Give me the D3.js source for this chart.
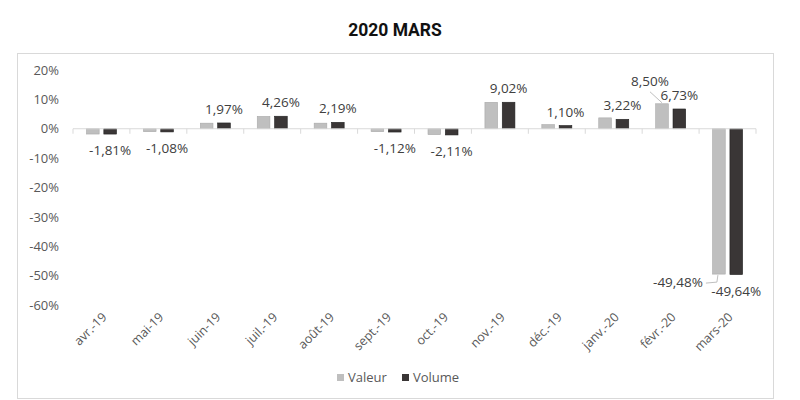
<!DOCTYPE html>
<html>
<head>
<meta charset="utf-8">
<script src="https://cdn.jsdelivr.net/npm/d3@7"></script>
<style>
  body { margin: 0; background: #fff; }
</style>
</head>
<body>
<script>
// chart data
var categories = ["avr.-19", "mai-19", "juin-19", "juil.-19", "août-19", "sept.-19",
                  "oct.-19", "nov.-19", "déc.-19", "janv.-20", "févr.-20", "mars-20"];
var seriesNames = ["Valeur", "Volume"];
var valeur = [-1.8, -1.0, 1.9, 4.2, 1.9, -1.0, -2.0, 9.0, 1.4, 3.7, 8.50, -49.48];
var volume = [-1.81, -1.08, 1.97, 4.26, 2.19, -1.12, -2.11, 9.02, 1.10, 3.22, 6.73, -49.64];
var valeurLabelled = ["févr.-20", "mars-20"];
var yTicks = [-60, -50, -40, -30, -20, -10, 0, 10, 20];

function init(){
    var w = 800, h = 400;
    var colors = {Valeur: "#bfbfbf", Volume: "#3a3636"};
    var strokes = {Valeur: "#a9a9a9", Volume: "#222"};

    var svg = d3.select("body").append("svg")
        .attr("width", w)
        .attr("height", h)
        .style("font-family", "'Open Sans', sans-serif");

    // outer frame
    svg.append("rect")
        .attr("x", 17.5).attr("y", 53.5)
        .attr("width", 756).attr("height", 345)
        .attr("fill", "none")
        .attr("stroke", "#d9d9d9");

    // title
    svg.append("text")
        .attr("x", 395).attr("y", 36)
        .attr("text-anchor", "middle")
        .attr("font-family", "Roboto, sans-serif")
        .attr("font-weight", "bold")
        .attr("font-size", "17.5px")
        .attr("fill", "#111")
        .text("2020 MARS");

    var xScale = d3.scaleBand()
        .domain(categories)
        .range([73, 756]);

    var xSub = d3.scaleBand()
        .domain(seriesNames)
        .range([13.5, 43.5])
        .paddingInner(0.27);

    var yScale = d3.scaleLinear()
        .domain([-60, 20])
        .range([305, 70]);

    var y0 = yScale(0);

    // y axis labels
    var yAxis = d3.axisLeft(yScale)
        .tickValues(yTicks)
        .tickSize(0)
        .tickPadding(3)
        .tickFormat(function(d){ return d + "%"; });
    var gy = svg.append("g")
        .attr("transform", "translate(62,0)")
        .call(yAxis);
    gy.select(".domain").remove();
    gy.selectAll("text")
        .attr("font-family", "'Open Sans', sans-serif")
        .attr("font-size", "13px")
        .attr("fill", "#595959");

    // bars
    var rows = categories.map(function(c, i){
        return {cat: c, Valeur: valeur[i], Volume: volume[i]};
    });

    var groups = svg.selectAll("g.cat")
        .data(rows)
        .enter()
        .append("g")
        .attr("class", "cat")
        .attr("transform", function(d){ return "translate(" + xScale(d.cat) + ",0)"; });

    groups.selectAll("rect")
        .data(function(d){
            return seriesNames.map(function(s){ return {s: s, v: d[s]}; });
        })
        .enter()
        .append("rect")
        .attr("x", function(d){ return xSub(d.s); })
        .attr("width", xSub.bandwidth())
        .attr("y", function(d){ return Math.min(yScale(d.v), y0); })
        .attr("height", function(d){ return Math.abs(yScale(d.v) - y0); })
        .attr("fill", function(d){ return colors[d.s]; })
        .attr("stroke", function(d){ return strokes[d.s]; })
        .attr("stroke-width", 0.6);

    // x axis line at zero, ticks at category boundaries
    svg.append("line")
        .attr("x1", xScale.range()[0]).attr("x2", xScale.range()[1])
        .attr("y1", y0).attr("y2", y0)
        .attr("stroke", "#d9d9d9");
    var bounds = categories.map(function(c){ return xScale(c); }).concat([xScale.range()[1]]);
    svg.selectAll("line.tick")
        .data(bounds)
        .enter()
        .append("line")
        .attr("class", "tick")
        .attr("x1", function(d){ return d; }).attr("x2", function(d){ return d; })
        .attr("y1", y0).attr("y2", y0 + 5)
        .attr("stroke", "#d9d9d9");

    // category labels, rotated
    svg.selectAll("text.cat")
        .data(categories)
        .enter()
        .append("text")
        .attr("class", "cat")
        .attr("text-anchor", "end")
        .attr("font-size", "12.5px")
        .attr("fill", "#595959")
        .attr("transform", function(d){
            return "translate(" + (xScale(d) + xScale.bandwidth() / 2 + 6) + ",318) rotate(-45)";
        })
        .text(function(d){ return d; });

    var fmt = function(v){ return v.toFixed(2).replace(".", ",") + "%"; };

    // Volume data labels
    svg.selectAll("text.vol")
        .data(rows)
        .enter()
        .append("text")
        .attr("class", "vol")
        .attr("text-anchor", "middle")
        .attr("font-size", "13.5px")
        .attr("fill", "#404040")
        .attr("x", function(d){ return xScale(d.cat) + xSub("Volume") + xSub.bandwidth() / 2; })
        .attr("y", function(d){
            return d.Volume >= 0 ? yScale(d.Volume) - 9 : yScale(d.Volume) + 21;
        })
        .text(function(d){ return fmt(d.Volume); });

    // Valeur data labels with leader lines
    var vl = rows.filter(function(d){ return valeurLabelled.indexOf(d.cat) >= 0; });
    vl.forEach(function(d){
        var cx = xScale(d.cat) + xSub("Valeur") + xSub.bandwidth() / 2;
        var yv = yScale(d.Valeur);
        if (d.Valeur >= 0) {
            svg.append("text")
                .attr("text-anchor", "middle")
                .attr("font-size", "13.5px")
                .attr("fill", "#404040")
                .attr("x", cx - 12).attr("y", yv - 18)
                .text(fmt(d.Valeur));
            svg.append("path")
                .attr("d", "M" + (cx - 12) + "," + (yv - 12) + "L" + cx + "," + (yv - 1))
                .attr("fill", "none")
                .attr("stroke", "#bfbfbf");
        } else {
            svg.append("text")
                .attr("text-anchor", "end")
                .attr("font-size", "13.5px")
                .attr("fill", "#404040")
                .attr("x", cx - 16).attr("y", yv + 13)
                .text(fmt(d.Valeur));
            svg.append("path")
                .attr("d", "M" + (cx - 13) + "," + (yv + 9) + "L" + (cx - 2) + "," + (yv + 8) + "L" + (cx - 1) + "," + (yv + 1))
                .attr("fill", "none")
                .attr("stroke", "#bfbfbf");
        }
    });

    // legend
    var legX = [337, 402];
    var leg = svg.selectAll("g.leg")
        .data(seriesNames)
        .enter()
        .append("g")
        .attr("class", "leg")
        .attr("transform", function(d, i){ return "translate(" + legX[i] + ",374)"; });
    leg.append("rect")
        .attr("width", 7).attr("height", 7)
        .attr("fill", function(d){ return colors[d]; });
    leg.append("text")
        .attr("x", 11).attr("y", 8)
        .attr("font-size", "13px")
        .attr("fill", "#595959")
        .text(function(d){ return d; });
}
window.onload = init;
</script>
</body>
</html>
